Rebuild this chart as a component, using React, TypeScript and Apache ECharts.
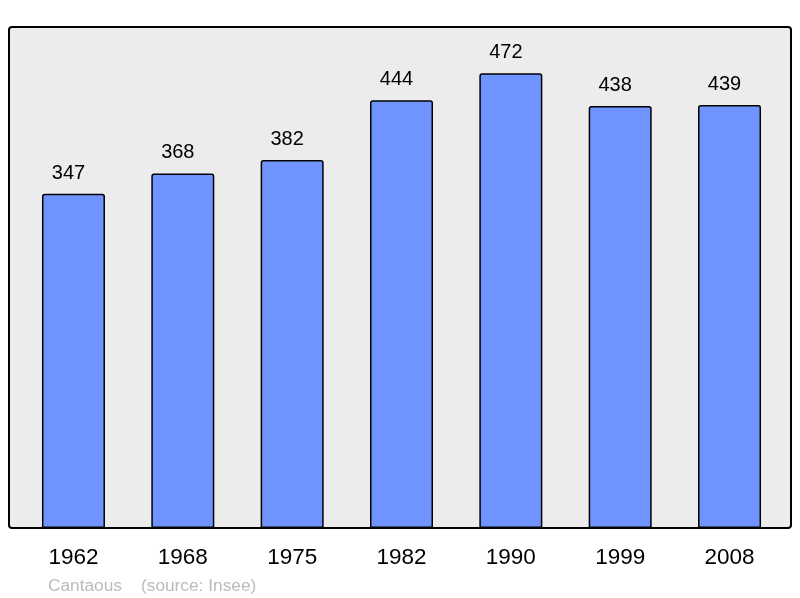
import React, { useEffect, useRef } from "react";
import * as echarts from "echarts";

const years = ["1962", "1968", "1975", "1982", "1990", "1999", "2008"];
const population = [347, 368, 382, 444, 472, 438, 439];
const footerName = "Cantaous";
const footerSource = "(source: Insee)";

const FONT = "Liberation Sans, Arial, sans-serif";

export default function App() {
  const ref = useRef<HTMLDivElement>(null);
  useEffect(() => {
    if (!ref.current) return;
    const chart = echarts.init(ref.current, null, { renderer: "svg" });
    chart.setOption({
      animation: false,
      textStyle: { fontFamily: FONT },
      grid: { left: 18.8, right: 15.8, top: 27, bottom: 70, containLabel: false },
      xAxis: {
        type: "category",
        data: years,
        axisLine: { show: false },
        axisTick: { show: false },
        axisLabel: { fontSize: 22.5, color: "#000", margin: 17, fontFamily: FONT },
      },
      yAxis: { type: "value", min: 0, max: 520, show: false, splitLine: { show: false } },
      graphic: [
        {
          type: "rect",
          z: -10,
          shape: { x: 9, y: 27, width: 782, height: 501, r: 3 },
          style: { fill: "#ececec", stroke: "#000", lineWidth: 2 },
        },
        {
          type: "text",
          x: 48,
          y: 585,
          style: {
            text: footerName,
            fill: "#bbbbbb",
            fontSize: 17.3,
            fontFamily: FONT,
            verticalAlign: "middle",
          },
        },
        {
          type: "text",
          x: 141,
          y: 585,
          style: {
            text: footerSource,
            fill: "#bbbbbb",
            fontSize: 17.3,
            fontFamily: FONT,
            verticalAlign: "middle",
          },
        },
      ],
      series: [
        {
          type: "bar",
          data: population,
          barWidth: 63,
          z: 5,
          itemStyle: { color: "#7094ff", borderColor: "#000", borderWidth: 1.5, borderRadius: [2, 2, 0, 0] },
          label: {
            show: true,
            position: "top",
            distance: 12,
            offset: [-5, 0],
            fontSize: 20,
            color: "#000",
            fontFamily: FONT,
          },
        },
      ],
    });
    return () => chart.dispose();
  }, []);
  return <div ref={ref} style={{ position: "fixed", left: 0, top: 0, width: 800, height: 598 }} />;
}
